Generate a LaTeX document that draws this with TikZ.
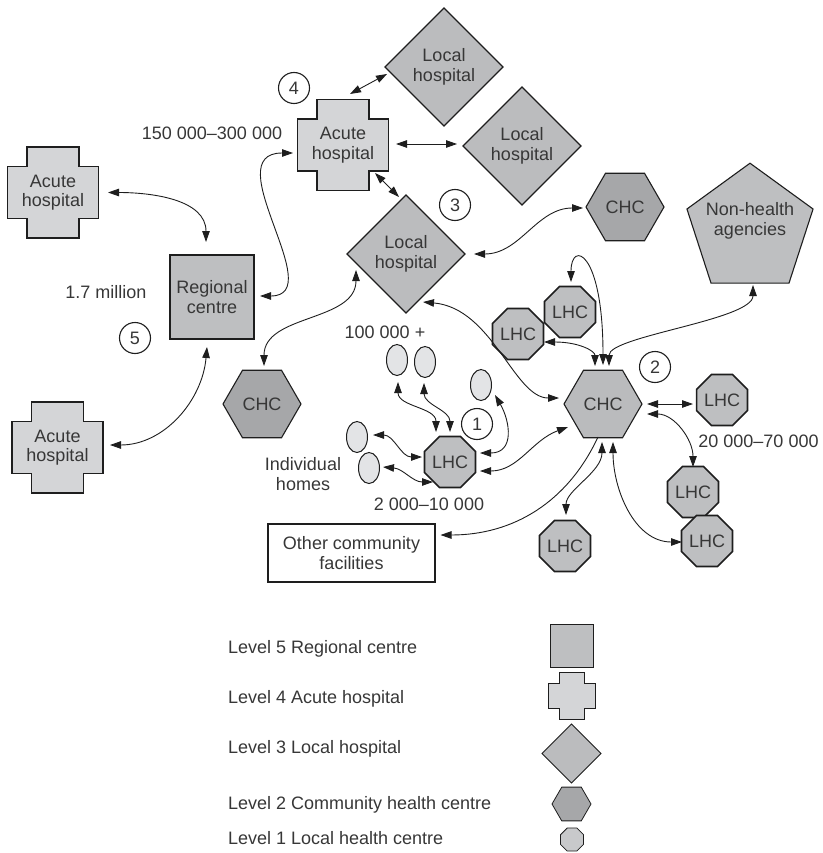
\documentclass[tikz,border=0pt]{standalone}
\usepackage{fontspec}
\setmainfont{Liberation Sans}
\usetikzlibrary{shapes.geometric,arrows.meta}
\definecolor{txt}{RGB}{55,55,55}
\definecolor{edge}{RGB}{30,30,30}
\definecolor{acute}{RGB}{212,213,215}
\definecolor{regional}{RGB}{190,191,193}
\definecolor{localh}{RGB}{187,188,190}
\definecolor{chcdark}{RGB}{166,167,169}
\definecolor{chclight}{RGB}{186,187,189}
\definecolor{lhcfill}{RGB}{190,191,193}
\definecolor{lhclegend}{RGB}{200,201,203}
\definecolor{homefill}{RGB}{227,228,230}
\definecolor{nonhealth}{RGB}{190,191,193}
\newcommand\crossnode[7]{%
  \draw[draw=edge,fill=acute,line width=#6] (#2-#4+#5,#3+#4) -- (#2+#4-#5,#3+#4) -- (#2+#4-#5,#3+#4-#5) -- (#2+#4,#3+#4-#5) -- (#2+#4,#3-#4+#5) -- (#2+#4-#5,#3-#4+#5) -- (#2+#4-#5,#3-#4) -- (#2-#4+#5,#3-#4) -- (#2-#4+#5,#3-#4+#5) -- (#2-#4,#3-#4+#5) -- (#2-#4,#3+#4-#5) -- (#2-#4+#5,#3+#4-#5) -- cycle;
  \node[align=center, minimum width=2*#4, minimum height=2*#4] (#1) at (#2,#3) {#7};
}
\begin{document}
\begin{tikzpicture}[x=1pt,y=1pt,
  every node/.style={font=\fontsize{18}{19.5}\selectfont, text=txt, inner sep=0pt, outer sep=0pt},
  shp/.style={draw=edge, line width=1.1pt},
  regbox/.style={shp, fill=regional, rectangle, minimum size=84pt, align=center},
  localdia/.style={shp, fill=localh, diamond, minimum width=118pt, minimum height=118pt, align=center},
  chchex/.style={shp, regular polygon, regular polygon sides=6, minimum size=78pt},
  lhcoct/.style={shp, line width=1.6pt, fill=lhcfill, regular polygon, regular polygon sides=8, minimum size=50pt},
  home/.style={draw=edge, line width=1pt, fill=homefill, ellipse, minimum width=21pt, minimum height=31pt},
  numcirc/.style={draw=edge, line width=1.1pt, fill=white, circle, minimum size=31pt},
  conn/.style={draw=edge, line width=0.9pt},
  twoway/.style={conn, arrows={Triangle[length=11pt,width=7.5pt]-Triangle[length=11pt,width=7.5pt]}},
  oneway/.style={conn, arrows={-Triangle[length=11pt,width=7.5pt]}},
]
\useasboundingbox (0,0) rectangle (822,-853);
% level 4 acute hospitals
\crossnode{A1}{53}{-192.5}{45.5}{19.5}{1.1pt}{Acute\\hospital}
\crossnode{A2}{57.5}{-447.5}{45.5}{19.5}{1.1pt}{Acute\\hospital}
\crossnode{A3}{343}{-145}{45.5}{19.5}{1.1pt}{Acute\\hospital}
% level 5
\node[regbox] (RC) at (212,-297) {Regional\\centre};
% level 3
\node[localdia] (LH1) at (444,-67) {Local\\hospital};
\node[localdia] (LH2) at (522,-146) {Local\\hospital};
\node[localdia] (LH3) at (406,-254) {Local\\hospital};
% level 2
\node[chchex, fill=chcdark] (CHCa) at (625,-207) {CHC};
\node[chchex, fill=chcdark] (CHCb) at (262,-404) {CHC};
\node[chchex, fill=chclight] (CHC) at (603,-404) {CHC};
% non-health
\node[shp, fill=nonhealth, regular polygon, regular polygon sides=5, minimum size=132.6pt] (NH) at (750,-229.5) {};
\node[align=center] (NHt) at (750,-221) {Non-health\\agencies};
% level 1
\node[lhcoct] (L1) at (450,-462) {LHC};
\node[lhcoct] (L2) at (570,-312) {LHC};
\node[lhcoct] (L3) at (518,-334) {LHC};
\node[lhcoct] (L4) at (722,-400) {LHC};
\node[lhcoct] (L5) at (693,-492) {LHC};
\node[lhcoct] (L6) at (707,-541) {LHC};
\node[lhcoct] (L7) at (565,-546) {LHC};
% homes
\node[home] (H1) at (397,-360) {};
\node[home] (H2) at (425,-362) {};
\node[home] (H3) at (481,-385) {};
\node[home] (H4) at (357,-437) {};
\node[home] (H5) at (369,-468) {};
% level numbers
\node[numcirc] (N4) at (294,-88) {4};
\node[numcirc] (N3) at (455,-205) {3};
\node[numcirc] (N5) at (135,-338) {5};
\node[numcirc] (N2) at (655,-367) {2};
\node[numcirc] (N1) at (477,-424) {1};
% other facilities
\node[draw=edge, line width=1.1pt, fill=white, minimum width=167pt, minimum height=58pt, align=center] (OCF) at (351.5,-553) {Other community\\facilities};
% population labels
\node[anchor=base] (T150) at (212,-140) {150 000–300 000};
\node[anchor=base] (T17) at (106,-298) {1.7 million};
\node[anchor=base] (T100) at (385,-338) {100 000 +};
\node[align=center] (Tind) at (303,-474) {Individual\\homes};
\node[anchor=base] (T2k) at (429,-510) {2 000–10 000};
\node[anchor=base] (T20k) at (758.5,-447) {20 000–70 000};
% connectors
\draw[twoway] ([shift={(55,0)}]A1.center) to[out=0,in=90] ([shift={(-6,55)}]RC.center);
\draw[twoway] ([shift={(48,1)}]RC.center) to[out=0,in=180,out distance=70pt,in distance=78pt] ([shift={(-50,-8)}]A3.center);
\draw[twoway] ([shift={(-5,-50)}]RC.center) to[out=-95,in=0] ([shift={(52.5,2.5)}]A2.center);
\draw[twoway] ([shift={(-50,-16)}]LH3.center) to[out=-90,in=90] ([shift={(2,38)}]CHCb.center);
\draw[twoway] ([shift={(7,51)}]A3.center) -- ([shift={(-57,-7)}]LH1.center);
\draw[twoway] ([shift={(53,1)}]A3.center) -- ([shift={(-65,2)}]LH2.center);
\draw[twoway] ([shift={(32,-28)}]A3.center) -- ([shift={(-7,57)}]LH3.center);
\draw[twoway] ([shift={(68,0)}]LH3.center) to[out=0,in=180] ([shift={(-42,-1)}]CHCa.center);
\draw[twoway] ([shift={(17,-48)}]LH3.center) to[out=-5,in=180,out distance=70pt,in distance=45pt] ([shift={(-44,6)}]CHC.center);
\draw[twoway] ([shift={(1,30)}]L2.center) to[out=90,in=90,out distance=42pt,in distance=115pt] ([shift={(0,39)}]CHC.center);
\draw[twoway] ([shift={(26,-8)}]L3.center) to[out=0,in=90,out distance=35pt,in distance=15pt] ([shift={(-8,38)}]CHC.center);
\draw[twoway] ([shift={(3,-55.5)}]NH.center) to[out=-90,in=90,out distance=35pt,in distance=30pt] ([shift={(6,38)}]CHC.center);
\draw[twoway] ([shift={(44,0)}]CHC.center) -- ([shift={(-29,-4)}]L4.center);
\draw[twoway] ([shift={(44,-10)}]CHC.center) to[out=0,in=90] ([shift={(0,25)}]L5.center);
\draw[twoway] ([shift={(10,-38)}]CHC.center) to[out=-90,in=180] ([shift={(-25,-1)}]L6.center);
\draw[twoway] ([shift={(-1,-38)}]CHC.center) to[out=-90,in=90,out distance=30pt,in distance=25pt] ([shift={(1,31)}]L7.center);
\draw[oneway] ([shift={(-5,-33)}]CHC.center) to[out=-115,in=0] ([shift={(89,18)}]OCF.center);
\draw[twoway] ([shift={(14,-10)}]H3.center) to[out=-60,in=0,out distance=30pt,in distance=35pt] ([shift={(30,9)}]L1.center);
\draw[twoway] ([shift={(30,-9)}]L1.center) to[out=0,in=200] ([shift={(-35,-23)}]CHC.center);
\draw[twoway] ([shift={(1,-22)}]H1.center) to[out=-90,in=90] ([shift={(-14,30)}]L1.center);
\draw[twoway] ([shift={(-1,-21)}]H2.center) to[out=-90,in=90] ([shift={(0,30)}]L1.center);
\draw[twoway] ([shift={(16,2)}]H4.center) to[out=0,in=180] ([shift={(-28,5)}]L1.center);
\draw[twoway] ([shift={(14,1)}]H5.center) to[out=-5,in=180] ([shift={(-17,-20)}]L1.center);
% legend
\node[anchor=base west] (lg5) at (228,-653.5) {Level 5 Regional centre};
\node[anchor=base west] (lg4) at (228,-703.5) {Level 4 Acute hospital};
\node[anchor=base west] (lg3) at (228,-753.5) {Level 3 Local hospital};
\node[anchor=base west] (lg2) at (228,-809.5) {Level 2 Community health centre};
\node[anchor=base west] (lg1) at (228,-844.5) {Level 1 Local health centre};
\node[shp, line width=0.8pt, fill=regional, minimum size=43pt] (ls5) at (571.5,-646) {};
\crossnode{ls4}{571.5}{-696}{23.5}{11}{0.8pt}{}
\node[shp, line width=0.8pt, fill=localh, diamond, minimum width=59pt, minimum height=59pt] (ls3) at (571.5,-753.5) {};
\node[shp, line width=0.8pt, fill=chcdark, regular polygon, regular polygon sides=6, minimum size=39pt] (ls2) at (571.5,-804) {};
\node[shp, line width=0.8pt, fill=lhclegend, regular polygon, regular polygon sides=8, minimum size=25pt] (ls1) at (572,-839.5) {};
\end{tikzpicture}
\end{document}
